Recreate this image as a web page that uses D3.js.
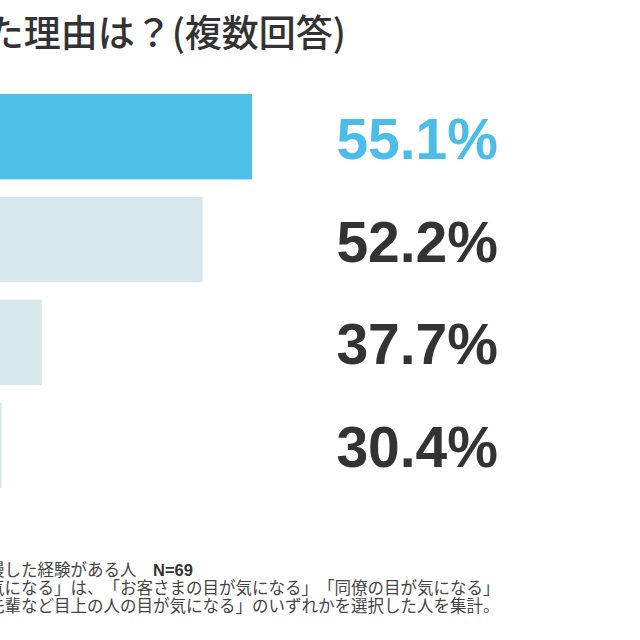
<!DOCTYPE html>
<html>
<head>
<meta charset="utf-8">
<script src="https://cdn.jsdelivr.net/npm/d3@7"></script>
<style>
  html, body { margin: 0; padding: 0; background: #fff; }
  svg { display: block; }
  text { text-spacing-trim: space-all; }
</style>
</head>
<body>
<svg id="chart" width="640" height="640"></svg>
<script>
const title = 'た理由は？(複数回答)';
const categories = ['a', 'b', 'c', 'd'];
const values = [55.1, 52.2, 37.7, 30.4];
const sampleSize = 'N=69';
const notes = [
  '慢した経験がある人　',
  '気になる」は、「お客さまの目が気になる」「同僚の目が気になる」',
  '先輩など目上の人の目が気になる」のいずれかを選択した人を集計。'
];

const jp = '"Noto Sans CJK JP", "Noto Sans", sans-serif';
const num = '"Liberation Sans", Arial, sans-serif';

const svg = d3.select('#chart');

// bars in the source are not proportional, a steep pow scale gets close
const x = d3.scalePow().exponent(3.5).domain([30, 55.1]).range([0, 252]);
const y = d3.scaleBand().domain(categories).range([94, 488]).paddingInner(0.17);

svg.append('text')
  .attr('x', 346)
  .attr('y', 47)
  .attr('text-anchor', 'end')
  .style('font-family', jp)
  .style('font-size', '37px')
  .style('font-weight', 500)
  .attr('fill', '#333')
  .text(title);

const data = categories.map((c, i) => ({ c, v: values[i], i }));

svg.selectAll('rect.bar')
  .data(data)
  .join('rect')
  .attr('class', 'bar')
  .attr('x', 0)
  .attr('y', (d) => y(d.c))
  .attr('width', (d) => x(d.v))
  .attr('height', y.bandwidth())
  .attr('fill', (d) => (d.i === 0 ? '#4dc1ea' : '#d6e8ec'));

svg.selectAll('text.val')
  .data(data)
  .join('text')
  .attr('class', 'val')
  .attr('x', 498)
  .attr('y', (d) => y(d.c) + y.bandwidth() / 2 + 22)
  .attr('text-anchor', 'end')
  .style('font-family', num)
  .style('font-size', '57px')
  .style('font-weight', 700)
  .attr('fill', (d) => (d.i === 0 ? '#4cbde9' : '#333'))
  .text((d) => d.v.toFixed(1) + '%');

const note = svg.selectAll('text.note')
  .data(notes)
  .join('text')
  .attr('class', 'note')
  .attr('x', -12)
  .attr('y', (d, i) => 576 + i * 18)
  .style('font-family', jp)
  .style('font-size', '16.5px')
  .attr('fill', '#444')
  .text((d) => d);

note.filter((d, i) => i === 0)
  .append('tspan')
  .style('font-family', num)
  .style('font-weight', 700)
  .attr('fill', '#333')
  .text(sampleSize);
</script>
</body>
</html>
